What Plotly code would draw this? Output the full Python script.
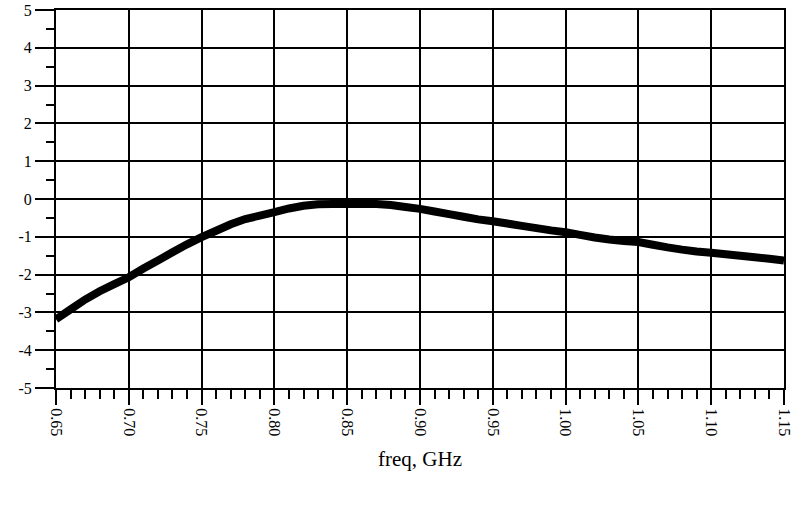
import plotly.graph_objects as go


freq = [0.65, 0.66, 0.67, 0.68, 0.69, 0.70, 0.71, 0.72, 0.73, 0.74,
        0.75, 0.76, 0.77, 0.78, 0.79, 0.80, 0.81, 0.82, 0.83, 0.84,
        0.85, 0.86, 0.87, 0.88, 0.89, 0.90, 0.91, 0.92, 0.93, 0.94,
        0.95, 0.96, 0.97, 0.98, 0.99, 1.00, 1.01, 1.02, 1.03, 1.04,
        1.05, 1.06, 1.07, 1.08, 1.09, 1.10, 1.11, 1.12, 1.13, 1.14, 1.15]
valores = [-3.18, -2.92, -2.66, -2.44, -2.25, -2.07, -1.84, -1.63, -1.41, -1.20,
           -1.01, -0.84, -0.67, -0.53, -0.44, -0.35, -0.25, -0.18, -0.14, -0.13,
           -0.13, -0.13, -0.13, -0.16, -0.21, -0.26, -0.33, -0.40, -0.47, -0.54,
           -0.59, -0.65, -0.71, -0.77, -0.83, -0.88, -0.95, -1.02, -1.07, -1.11,
           -1.14, -1.21, -1.28, -1.34, -1.39, -1.42, -1.46, -1.50, -1.54, -1.58, -1.63]

x_ticks = [0.65, 0.70, 0.75, 0.80, 0.85, 0.90, 0.95, 1.00, 1.05, 1.10, 1.15]
x_labels = ['0.65', '0.70', '0.75', '0.80', '0.85', '0.90', '0.95', '1.00', '1.05', '1.10', '1.15']
y_ticks = [-5, -4, -3, -2, -1, 0, 1, 2, 3, 4, 5]
y_labels = ['-5', '-4', '-3', '-2', '-1', '0', '1', '2', '3', '4', '5']

fonte = 'Liberation Serif'

fig = go.Figure()
fig.add_trace(go.Scatter(x=freq, y=valores, mode='lines',
                         line=dict(color='black', width=8, simplify=False),
                         showlegend=False))

fig.update_layout(
    width=793, height=508,
    margin=dict(l=56, r=9, t=10, b=120),
    plot_bgcolor='white', paper_bgcolor='white',
    font=dict(family=fonte, size=16, color='black'),
)

fig.update_xaxes(
    range=[0.65, 1.15], automargin=False, ticklabeloverflow='allow',
    tickvals=x_ticks, ticktext=x_labels, tickangle=90,
    ticks='outside', ticklen=15, tickwidth=2, tickcolor='black',
    minor=dict(dtick=0.01, tick0=0.65, ticks='outside', ticklen=9,
               tickwidth=2, tickcolor='black', showgrid=False),
    showgrid=True, gridcolor='black', gridwidth=2,
    showline=True, linecolor='black', linewidth=2, mirror=True,
    zeroline=False,
    title=dict(text='freq, GHz', font=dict(family=fonte, size=21), standoff=16),
    tickfont=dict(family=fonte, size=16),
)

fig.update_yaxes(
    range=[-5, 5], automargin=False, ticklabeloverflow='allow',
    tickvals=y_ticks, ticktext=y_labels,
    ticks='outside', ticklen=19, tickwidth=2, tickcolor='black',
    minor=dict(dtick=0.5, tick0=-5, ticks='outside', ticklen=8,
               tickwidth=2, tickcolor='black', showgrid=False),
    showgrid=True, gridcolor='black', gridwidth=2,
    showline=True, linecolor='black', linewidth=2, mirror=True,
    zeroline=False,
    tickfont=dict(family=fonte, size=16),
)

# sem margem da pagina, para a figura ocupar a janela inteira
fig.write_html("out.html", config={'displayModeBar': False},
               post_script="document.body.style.margin='0';")
